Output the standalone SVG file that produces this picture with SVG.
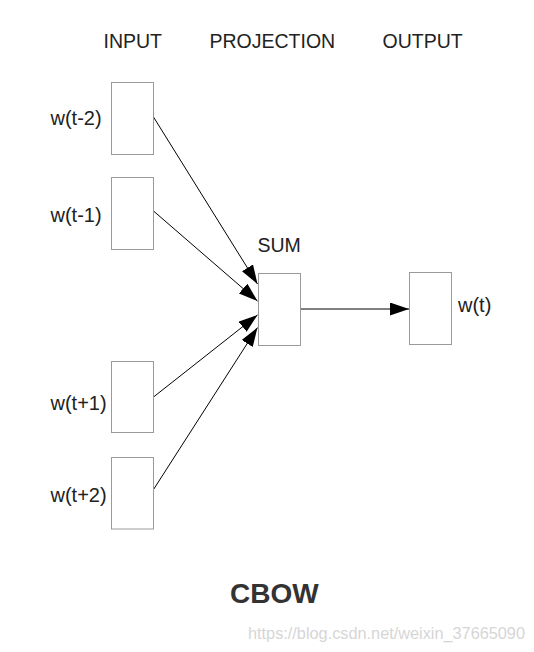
<svg xmlns="http://www.w3.org/2000/svg" width="534" height="652" viewBox="0 0 534 652">
<style>
.box{fill:#fff;stroke:#9a9a9a;stroke-width:1}
.lbl{font-family:"Liberation Sans",Arial,sans-serif;font-size:19.5px;fill:#222}
.wl{font-size:20px}
.edge{stroke:#000;stroke-width:1;fill:none;marker-end:url(#arr)}
</style>
<defs>
<marker id="arr" markerUnits="userSpaceOnUse" markerWidth="19" markerHeight="13" viewBox="0 0 19 13" refX="19" refY="6.5" orient="auto">
<path d="M0,0 L19,6.5 L0,13 z" fill="#000"/>
</marker>
</defs>
<rect width="534" height="652" fill="#fff"/>
<g id="headers">
<text class="lbl" x="103.5" y="48">INPUT</text>
<text class="lbl" x="209.5" y="48">PROJECTION</text>
<text class="lbl" x="382.5" y="48">OUTPUT</text>
</g>
<g id="connectors">
<line class="edge" x1="153.5" y1="117" x2="257.5" y2="284"/>
<line class="edge" x1="153.5" y1="211" x2="257.5" y2="301"/>
<line class="edge" x1="153.5" y1="397" x2="257.5" y2="315"/>
<line class="edge" x1="153.5" y1="489.5" x2="257.5" y2="327.5"/>
<line class="edge" x1="300.5" y1="309" x2="409" y2="309"/>
</g>
<g id="n-wt-2">
<rect class="box" x="111.5" y="82.5" width="42" height="72"/>
<text class="lbl wl" x="50.5" y="124.5">w(t-2)</text>
</g>
<g id="n-wt-1">
<rect class="box" x="111.5" y="177.5" width="42" height="72"/>
<text class="lbl wl" x="50.5" y="221.5">w(t-1)</text>
</g>
<g id="n-wt+1">
<rect class="box" x="111.5" y="361.5" width="42" height="71"/>
<text class="lbl wl" x="50.5" y="409.5">w(t+1)</text>
</g>
<g id="n-wt+2">
<rect class="box" x="111.5" y="457.5" width="42" height="71.5"/>
<text class="lbl wl" x="50.5" y="501.5">w(t+2)</text>
</g>
<g id="n-sum">
<rect class="box" x="258.5" y="273.5" width="42" height="72"/>
<text class="lbl" x="257.5" y="252">SUM</text>
</g>
<g id="n-wt">
<rect class="box" x="409.5" y="272.5" width="42" height="72"/>
<text class="lbl wl" x="458" y="311.5">w(t)</text>
</g>
<text x="230" y="603" font-family="'Liberation Sans',Arial,sans-serif" font-weight="bold" font-size="28" fill="#333">CBOW</text>
<text x="248" y="638.5" font-family="'Liberation Sans',Arial,sans-serif" font-size="16.3" fill="#d6d6d6">https://blog.csdn.net/weixin_37665090</text>
</svg>
